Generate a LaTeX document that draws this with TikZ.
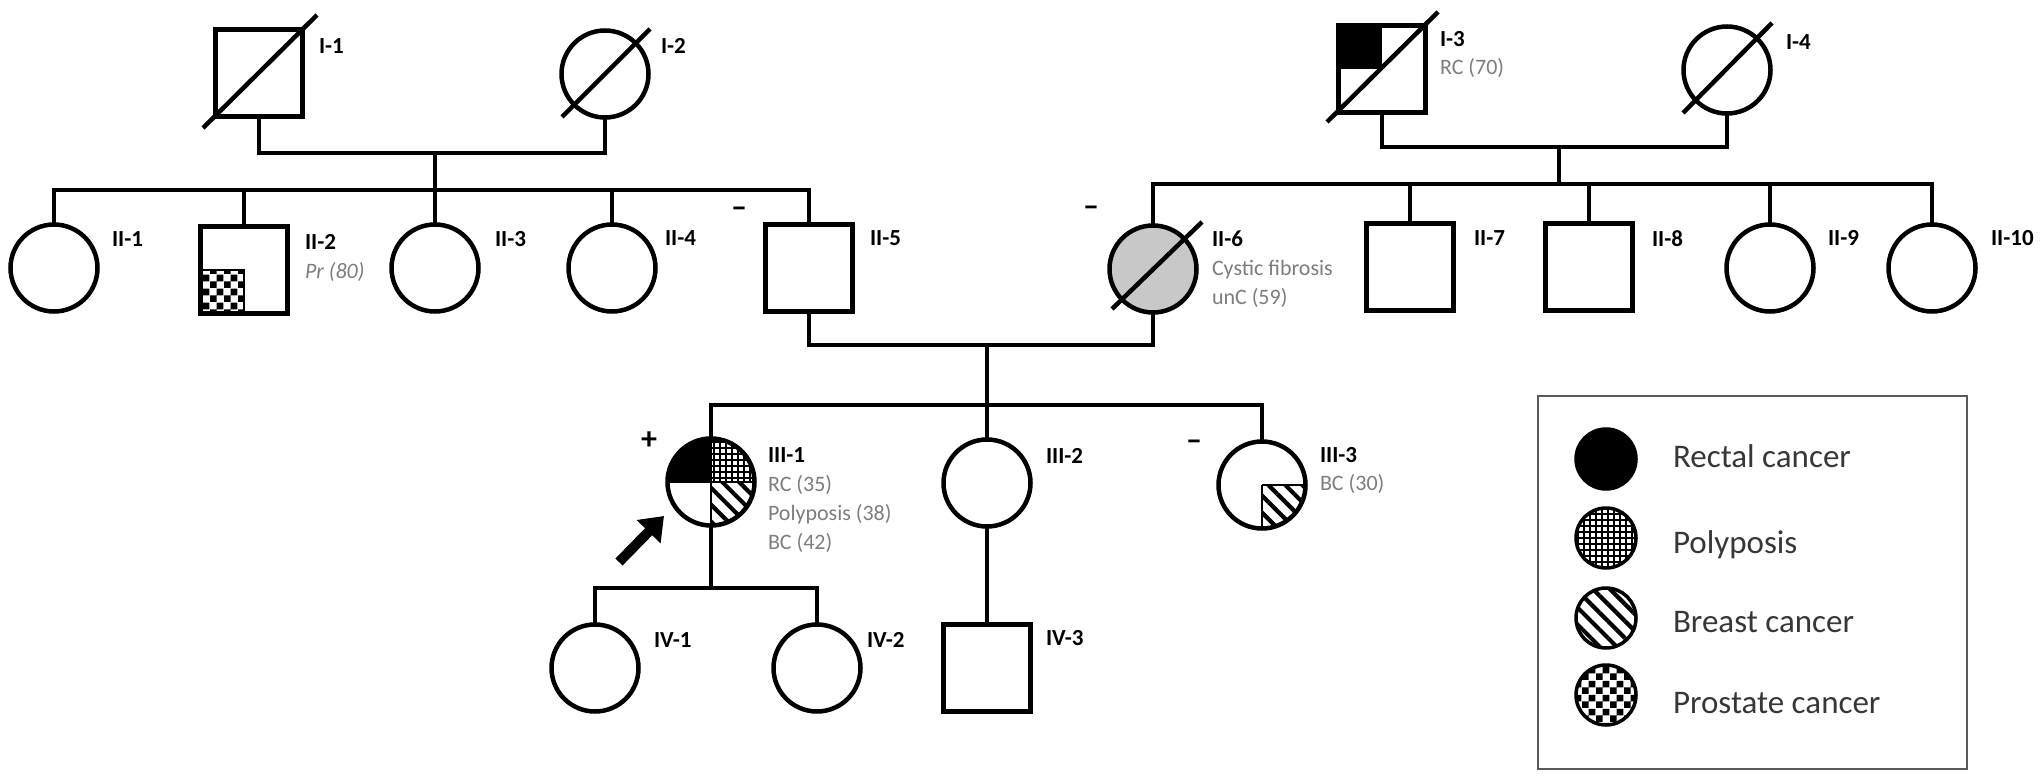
\documentclass[tikz,border=0pt]{standalone}
\usepackage{fontspec}
\setmainfont{Carlito}
\usetikzlibrary{patterns,patterns.meta,arrows.meta}
\definecolor{txtgray}{RGB}{125,125,125}
\definecolor{legline}{RGB}{90,90,90}
\definecolor{legtxt}{RGB}{55,55,55}
\definecolor{cfgray}{RGB}{200,200,200}
\pgfdeclarepatternformonly{prostatechk}{\pgfpointorigin}{\pgfpoint{14pt}{14pt}}{\pgfpoint{14pt}{14pt}}{%
  \pgfpathrectangle{\pgfpointorigin}{\pgfpoint{7pt}{7pt}}%
  \pgfpathrectangle{\pgfpoint{7pt}{7pt}}{\pgfpoint{7pt}{7pt}}%
  \pgfusepath{fill}}
\tikzset{
  every node/.style={inner sep=0pt, outer sep=0pt},
  ln/.style={line width=4.5pt},
  female/.style={circle, draw, line width=4.5pt, minimum size=87pt},
  male/.style={rectangle, draw, line width=4.5pt, minimum size=87pt},
  idlab/.style={anchor=base west, font=\fontsize{23}{27}\selectfont\bfseries},
  info/.style={anchor=base west, text=txtgray, font=\fontsize{22}{26}\selectfont},
  sign/.style={font=\fontsize{32}{36}\selectfont\bfseries},
  polyp/.style={pattern={Hatch[angle=0,distance=6pt,line width=1.4pt]}},
  breast/.style={pattern={Lines[angle=-45,distance=12pt,line width=4.2pt]}},
  prost/.style={pattern=prostatechk},
  legsym/.style={circle, draw, line width=3.5pt, minimum size=60pt},
  legtext/.style={anchor=base west, text=legtxt, font=\fontsize{33}{38}\selectfont},
  divider/.style={line width=2.5pt},
}
\begin{document}
\begin{tikzpicture}[x=1pt, y=-1pt]
\useasboundingbox (0,0) rectangle (2043,778);

% ---------- quadrant fills (drawn under outlines) ----------
% I-3 rectal cancer quadrant
\fill (1338.5,25.5) rectangle (1382,69);
% II-2 prostate quadrant
\fill[prost] (200.5,270) rectangle (244,313.5);
\draw[divider] (200.5,270) -- (244,270) -- (244,313.5);
% III-1
\begin{scope}
  \clip (711,482) circle (43.5);
  \fill (667,438) rectangle (711,482);
  \fill[polyp] (711,438) rectangle (755,482);
  \fill[breast] (711,482) rectangle (755,526);
  \draw[divider] (667,482) -- (755,482);
  \draw[divider] (711,438) -- (711,526);
\end{scope}
% III-3
\begin{scope}
  \clip (1262,485) circle (43.5);
  \fill[breast] (1262,485) rectangle (1306,529);
  \draw[divider] (1262,485) -- (1306,485);
  \draw[divider] (1262,485) -- (1262,529);
\end{scope}

% ---------- individuals ----------
\node[male]   (I1) at (259,73) {};
\node[female] (I2) at (605,74) {};
\node[male]   (I3) at (1382,69) {};
\node[female] (I4) at (1727,70) {};

\node[female] (II1) at (54,268) {};
\node[male]   (II2) at (244,270) {};
\node[female] (II3) at (435,268) {};
\node[female] (II4) at (612,268) {};
\node[male]   (II5) at (809,268) {};
\node[female, fill=cfgray] (II6) at (1153,269) {};
\node[male]   (II7) at (1410,267) {};
\node[male]   (II8) at (1589,267) {};
\node[female] (II9) at (1770,268) {};
\node[female] (II10) at (1932,268) {};

\node[female] (III1) at (711,482) {};
\node[female] (III2) at (987,483) {};
\node[female] (III3) at (1262,485) {};

\node[female] (IV1) at (595,668) {};
\node[female] (IV2) at (817,668) {};
\node[male]   (IV3) at (987,668) {};

% deceased strokes
\draw[ln] (I1.center) ++(-56,55) -- ++(114,-113);
\draw[ln] (I2.center) ++(-43,43) -- ++(88,-88);
\draw[ln] (I3.center) ++(-55,53) -- ++(111,-110);
\draw[ln] (I4.center) ++(-44,43) -- ++(89,-90);
\draw[ln] (II6.center) ++(-41,40) -- ++(90,-87);

% ---------- connectors ----------
\coordinate (m1) at (435,153);
\coordinate (s1) at (435,190);
\draw[ln] (I1.south) |- (m1) -| (I2.south);
\draw[ln] (m1) -- (II3.north);
\draw[ln] (II1.north) |- (s1) -| (II5.north);
\draw[ln] (II2.north) -- (II2.north |- s1);
\draw[ln] (II4.north) -- (II4.north |- s1);

\coordinate (m2) at (1559,147);
\coordinate (s2) at (1559,184);
\draw[ln] (I3.south) |- (m2) -| (I4.south);
\draw[ln] (m2) -- (s2);
\draw[ln] (II6.north) |- (s2) -| (II10.north);
\draw[ln] (II7.north) -- (II7.north |- s2);
\draw[ln] (II8.north) -- (II8.north |- s2);
\draw[ln] (II9.north) -- (II9.north |- s2);

\coordinate (m3) at (987,345);
\coordinate (s3) at (987,405);
\draw[ln] (II5.south) |- (m3) -| (II6.south);
\draw[ln] (m3) -- (III2.north);
\draw[ln] (III1.north) |- (s3) -| (III3.north);

\coordinate (s4) at (711,588);
\draw[ln] (III1.south) -- (s4);
\draw[ln] (IV1.north) |- (s4) -| (IV2.north);
\draw[ln] (III2.south) -- (IV3.north);

% proband arrow
\coordinate (arrtail) at (619,562);
\coordinate (arrtip) at (664,516);
\draw[line width=10pt, -{Triangle[width=32pt,length=22pt]}] (arrtail) -- (arrtip);

% ---------- labels ----------
\node[idlab] (lI1) at (319,54) {I-1};
\node[idlab] (lI2) at (661,54) {I-2};
\node[idlab] (lI3) at (1440,47) {I-3};
\node[info]  (tI3) at (1440,75) {RC (70)};
\node[idlab] (lI4) at (1786,50) {I-4};

\node[idlab] (lII1) at (112,247) {II-1};
\node[idlab] (lII2) at (305,250) {II-2};
\node[info, font=\fontsize{22}{26}\selectfont\itshape] (tII2) at (305,278) {Pr (80)};
\node[idlab] (lII3) at (495,247) {II-3};
\node[idlab] (lII4) at (665,245) {II-4};
\node[idlab] (lII5) at (870,245) {II-5};
\node[idlab] (lII6) at (1212,247) {II-6};
\node[info]  (tII6a) at (1212,275) {Cystic fibrosis};
\node[info]  (tII6b) at (1212,304) {unC (59)};
\node[idlab] (lII7) at (1474,246) {II-7};
\node[idlab] (lII8) at (1652,247) {II-8};
\node[idlab] (lII9) at (1828,245) {II-9};
\node[idlab] (lII10) at (1991,245) {II-10};

\node[idlab] (lIII1) at (768,462) {III-1};
\node[info]  (tIII1a) at (768,491) {RC (35)};
\node[info]  (tIII1b) at (768,520) {Polyposis (38)};
\node[info]  (tIII1c) at (768,549) {BC (42)};
\node[idlab] (lIII2) at (1046,463) {III-2};
\node[idlab] (lIII3) at (1320,462) {III-3};
\node[info]  (tIII3) at (1320,490) {BC (30)};

\node[idlab] (lIV1) at (654,647) {IV-1};
\node[idlab] (lIV2) at (867,647) {IV-2};
\node[idlab] (lIV3) at (1046,645) {IV-3};

% carrier signs
\node[sign] (sII5) at (739,212) {–};
\node[sign] (sII6) at (1091,211) {–};
\node[sign] (sIII3) at (1194,445) {–};
\node[sign] (sIII1) at (649,441) {+};

% ---------- legend ----------
\node[draw=legline, line width=2.5pt, minimum width=429pt, minimum height=373pt] (legend) at (1752.5,582.5) {};
\node[legsym, fill=black] (L1) at (1606,459) {};
\node[legsym, polyp] (L2) at (1606,538) {};
\node[legsym, breast] (L3) at (1606,618) {};
\node[legsym, prost] (L4) at (1606,695) {};
\node[legtext] (T1) at (1673,467) {Rectal cancer};
\node[legtext] (T2) at (1673,553) {Polyposis};
\node[legtext] (T3) at (1673,632) {Breast cancer};
\node[legtext] (T4) at (1673,713) {Prostate cancer};
\end{tikzpicture}
\end{document}
